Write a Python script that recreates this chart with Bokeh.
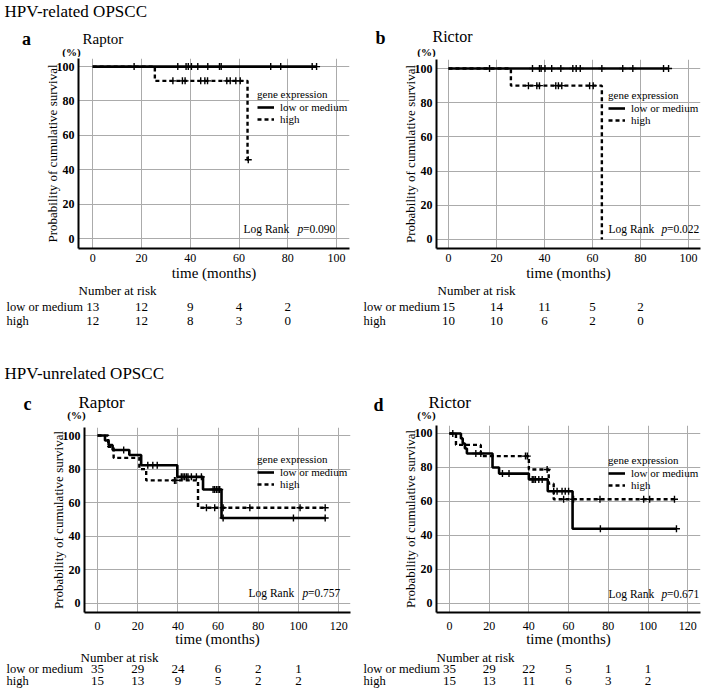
import numpy as np
from bokeh.plotting import figure
from bokeh.models import Label, Legend, LegendItem, FixedTicker, Range1d
from bokeh.layouts import column, row
from bokeh.embed import file_html
from bokeh.resources import INLINE

SERIF = "Liberation Serif"

# ---------------- data ----------------
# a: Raptor, HPV-related OPSCC
a_low_event_t = []
a_low_surv = []
a_low_end = 91.8
a_low_censor = [17, 34.9, 38.3, 39.2, 40.5, 43.1, 47.2, 52, 52.7, 73, 77.1, 90, 91.8]
a_high_event_t = [25.5, 63.5]
a_high_surv = [91.7, 45.8]
a_high_end = 63.8
a_high_censor = [32.9, 36.8, 37.9, 44.3, 46, 47.1, 55, 56.4, 58.7, 60.5, 63.8]
a_risk_t = [0, 20, 40, 60, 80]
a_risk_low = [13, 12, 9, 4, 2]
a_risk_high = [12, 12, 8, 3, 0]
a_p = "=0.090"

# b: Rictor, HPV-related OPSCC
b_low_event_t = []
b_low_surv = []
b_low_end = 91.7
b_low_censor = [17.1, 35, 37.9, 38.6, 40.2, 43, 46.8, 51.8, 53.2, 54.9, 63.9, 72.6, 76.8, 89.6, 91.7]
b_high_event_t = [26, 63.9]
b_high_surv = [90, 0]
b_high_end = 63.9
b_high_censor = [33.3, 36.8, 37.9, 44.7, 45.8, 47.2, 58.8, 60.3]
b_risk_t = [0, 20, 40, 60, 80]
b_risk_low = [15, 14, 11, 5, 2]
b_risk_high = [10, 10, 6, 2, 0]
b_p = "=0.022"

# c: Raptor, HPV-unrelated OPSCC
c_low_event_t = [3.7, 5.5, 7.5, 15.8, 21.7, 39.7, 52.5, 61.7]
c_low_surv = [97.1, 94.3, 91.4, 88.4, 82.3, 75.4, 67.9, 50.9]
c_low_end = 113.3
c_low_censor = [13, 25, 27.5, 29.7, 41.7, 42.5, 43.3, 44.2, 45, 46.7, 49.2, 51.7,
                57.5, 58.3, 59.2, 60, 60.8, 62.5, 97.5, 113.3]
c_high_event_t = [5.3, 8, 20.8, 24.2, 50]
c_high_surv = [93.3, 86.7, 80, 73.3, 57]
c_high_end = 113.3
c_high_censor = [38.3, 39, 54.2, 58.3, 62.5, 75.8, 100.8, 113.3]
c_risk_t = [0, 20, 40, 60, 80, 100]
c_risk_low = [35, 29, 24, 6, 2, 1]
c_risk_high = [15, 13, 9, 5, 2, 2]
c_p = "=0.757"

# d: Rictor, HPV-unrelated OPSCC
d_low_event_t = [5.8, 6.7, 7.8, 8.8, 21.7, 25, 40, 49.5, 62]
d_low_surv = [97.1, 94.1, 91.2, 88.2, 80, 76.4, 73, 66, 44]
d_low_end = 114.3
d_low_censor = [1.7, 13.3, 15.8, 26.7, 30, 41.7, 42.5, 43.3, 45, 46.7, 52.5, 54.2,
                56.7, 58.3, 60, 76, 114.3]
d_high_event_t = [3.3, 15.8, 40, 50, 52.5]
d_high_surv = [93.3, 86.7, 78.8, 70.5, 61.3]
d_high_end = 113.3
d_high_censor = [38.3, 39.2, 49.2, 57.5, 62.5, 75.8, 97.8, 100.8, 113.3]
d_risk_t = [0, 20, 40, 60, 80, 100]
d_risk_low = [35, 29, 22, 5, 1, 1]
d_risk_high = [15, 13, 11, 6, 3, 2]
d_p = "=0.671"

x_ticks_top = [0, 20, 40, 60, 80, 100]
x_ticks_bottom = [0, 20, 40, 60, 80, 100, 120]
y_ticks = [0, 20, 40, 60, 80, 100]


def step_xy(event_t, surv, end):
    xs = [0.0] + list(event_t) + [end]
    ys = [100.0] + list(surv) + [surv[-1] if len(surv) else 100.0]
    return xs, ys


def surv_at(times, event_t, surv):
    out = []
    for t in times:
        i = int(np.searchsorted(np.asarray(event_t, dtype=float), t, side="right"))
        out.append(100.0 if i == 0 else surv[i - 1])
    return out


def label(p, text, x, y, size, align="left", style="normal"):
    p.add_layout(Label(x=x, y=y, x_units="data", y_units="data", text=text,
                       text_font=SERIF, text_font_size=size, text_font_style=style,
                       text_align=align, text_baseline="middle", text_color="black"))


def text_fig(ox, oy, W, H, xr):
    p = figure(width=W, height=H, x_range=Range1d(*xr), y_range=Range1d(oy + H, oy),
               output_backend="svg", toolbar_location=None, title=None,
               x_axis_location=None, y_axis_location=None, min_border=0,
               frame_align=False)
    p.grid.visible = False
    p.outline_line_color = None
    p.background_fill_color = "white"
    p.border_fill_color = "white"
    return p


def build_panel(cfg):
    ox = cfg["ox"]
    W = cfg["W"]
    hy0, my0, ty0, ty1 = cfg["rows"]
    L, T, R, B = cfg["frame"]
    x0, x1 = cfg["xr"]
    y0, y1 = cfg["yr"]
    k = (x1 - x0) / (R - L)

    def px2x(px):
        return x0 + (px - L) * k

    def py2y(py):
        return y0 + (B - py) / (B - T) * (y1 - y0)

    # ---- header ----
    ph = text_fig(ox, hy0, W, my0 - hy0, (ox, ox + W))
    for (text, px, py, size, align, style) in cfg["header"]:
        label(ph, text, px, py, size, align, style)

    # ---- main plot ----
    H = ty0 - my0
    p = figure(width=W, height=H, x_range=Range1d(x0, x1), y_range=Range1d(y0, y1),
               output_backend="svg", toolbar_location=None, title=None,
               min_border_left=L - ox, min_border_right=ox + W - R,
               min_border_top=T - my0, min_border_bottom=my0 + H - B,
               frame_align=False)
    p.outline_line_color = None
    p.background_fill_color = "white"
    p.border_fill_color = "white"
    for ax in (p.xaxis[0], p.yaxis[0]):
        ax.axis_line_width = 2
        ax.axis_line_color = "black"
        ax.major_tick_out = 0
        ax.major_tick_in = 0
        ax.minor_tick_out = 0
        ax.minor_tick_in = 0
        ax.major_label_text_font = SERIF
        ax.major_label_text_color = "black"
        ax.major_label_text_font_size = "12px"
        ax.axis_label_text_font = SERIF
        ax.axis_label_text_color = "black"
        ax.axis_label_text_font_style = "normal"
    p.xaxis.ticker = FixedTicker(ticks=cfg["xticks"])
    p.yaxis.ticker = FixedTicker(ticks=y_ticks)
    p.xaxis.major_label_standoff = cfg["xstand"]
    p.yaxis.major_label_standoff = 4
    p.yaxis.major_label_text_font_style = "bold"
    p.xaxis.axis_label = "time (months)"
    p.xaxis.axis_label_text_font_size = "15px"
    p.xaxis.axis_label_standoff = cfg["xlabstand"]
    p.yaxis.axis_label = "Probability of cumulative survival"
    p.yaxis.axis_label_text_font_size = "13px"
    p.yaxis.axis_label_standoff = -6
    p.xgrid.ticker = FixedTicker(ticks=cfg["xticks"])
    p.ygrid.ticker = FixedTicker(ticks=y_ticks)
    for g in (p.xgrid[0], p.ygrid[0]):
        g.grid_line_color = "#ababab"
        g.grid_line_width = 1

    d = cfg["data"]
    hx, hy = step_xy(d["high_t"], d["high_s"], d["high_end"])
    lx, ly = step_xy(d["low_t"], d["low_s"], d["low_end"])
    r_high = p.step(hx, hy, mode="after", line_color="black", line_width=2.4, line_dash="4 3")
    r_low = p.step(lx, ly, mode="after", line_color="black", line_width=2.6)
    p.scatter(d["high_c"], surv_at(d["high_c"], d["high_t"], d["high_s"]), marker="cross",
              size=7, line_color="black", line_width=1.4)
    p.scatter(d["low_c"], surv_at(d["low_c"], d["low_t"], d["low_s"]), marker="cross",
              size=7, line_color="black", line_width=1.4)

    lg_left, lg_bottom = cfg["legend"]
    legend = Legend(items=[LegendItem(label="low or medium", renderers=[r_low]),
                           LegendItem(label="high", renderers=[r_high])],
                    location=(lg_left - L, B - lg_bottom))
    legend.title = "gene expression"
    legend.title_text_font = SERIF
    legend.title_text_font_size = "11px"
    legend.title_text_font_style = "normal"
    legend.title_text_color = "black"
    legend.title_standoff = 1
    legend.label_text_font = SERIF
    legend.label_text_font_size = "11px"
    legend.label_text_color = "black"
    legend.label_height = 12
    legend.glyph_height = 12
    legend.glyph_width = 17
    legend.label_standoff = 6
    legend.spacing = 0
    legend.padding = 0
    legend.margin = 0
    legend.border_line_color = None
    legend.background_fill_alpha = 0
    p.add_layout(legend)

    lr_x, lr_y, p_x = cfg["logrank"]
    label(p, "Log Rank", px2x(lr_x), py2y(lr_y), "11.5px")
    label(p, "p", px2x(p_x), py2y(lr_y), "11.5px", "left", "italic")
    label(p, cfg["pval"], px2x(p_x + 5.5), py2y(lr_y), "11.5px")

    # ---- number at risk table (x in data units of the plot above) ----
    pt = text_fig(ox, ty0, W, ty1 - ty0, (px2x(ox), px2x(ox + W)))
    nar_x, nar_y, lab_x, row1, row2 = cfg["table"]
    label(pt, "Number at risk", px2x(nar_x), nar_y, "13px")
    label(pt, "low or medium", px2x(lab_x), row1, "12.5px")
    label(pt, "high", px2x(lab_x), row2, "12.5px")
    for t, n in zip(cfg["risk_t"], cfg["risk_low"]):
        label(pt, str(n), t, row1, "13px", "center")
    for t, n in zip(cfg["risk_t"], cfg["risk_high"]):
        label(pt, str(n), t, row2, "13px", "center")

    return column(ph, p, pt, spacing=0)


TOP_ROWS = (0, 57, 283, 345)
BOT_ROWS = (345, 424, 649, 693)

panels = [
    dict(ox=0, W=356, rows=TOP_ROWS, frame=(78, 58, 349, 248),
         xr=(-5.8, 105.3), yr=(-5.8, 104.7), xticks=x_ticks_top, xstand=5, xlabstand=0,
         data=dict(low_t=a_low_event_t, low_s=a_low_surv, low_end=a_low_end, low_c=a_low_censor,
                   high_t=a_high_event_t, high_s=a_high_surv, high_end=a_high_end, high_c=a_high_censor),
         legend=(257, 125),
         header=[("HPV-related OPSCC", 4, 11, "17px", "left", "normal"),
                 ("a", 26, 38, "18px", "center", "bold"),
                 ("Raptor", 82, 38, "15px", "left", "normal"),
                 ("(%)", 71, 51, "11px", "center", "bold")],
         logrank=(243, 228, 297), pval=a_p,
         table=(78, 290, 6, 306, 320), risk_t=a_risk_t, risk_low=a_risk_low, risk_high=a_risk_high),
    dict(ox=356, W=353, rows=TOP_ROWS, frame=(436, 59, 700, 248),
         xr=(-5.0, 105.0), yr=(-5.3, 105.3), xticks=x_ticks_top, xstand=5, xlabstand=0,
         data=dict(low_t=b_low_event_t, low_s=b_low_surv, low_end=b_low_end, low_c=b_low_censor,
                   high_t=b_high_event_t, high_s=b_high_surv, high_end=b_high_end, high_c=b_high_censor),
         legend=(608, 126),
         header=[("b", 380, 37, "18px", "center", "bold"),
                 ("Rictor", 432, 36, "16px", "left", "normal"),
                 ("(%)", 426, 51, "11px", "center", "bold")],
         logrank=(608, 228, 661), pval=b_p,
         table=(437, 290, 363, 306, 320), risk_t=b_risk_t, risk_low=b_risk_low, risk_high=b_risk_high),
    dict(ox=0, W=356, rows=BOT_ROWS, frame=(84, 427, 350, 612),
         xr=(-6.5, 125.9), yr=(-5.4, 104.8), xticks=x_ticks_bottom, xstand=9, xlabstand=-2,
         data=dict(low_t=c_low_event_t, low_s=c_low_surv, low_end=c_low_end, low_c=c_low_censor,
                   high_t=c_high_event_t, high_s=c_high_surv, high_end=c_high_end, high_c=c_high_censor),
         legend=(257, 490),
         header=[("HPV-unrelated OPSCC", 4, 373, "17px", "left", "normal"),
                 ("c", 27, 403, "18px", "center", "bold"),
                 ("Raptor", 78, 402, "17px", "left", "normal"),
                 ("(%)", 76, 414, "11px", "center", "bold")],
         logrank=(248, 592, 302), pval=c_p,
         table=(80, 656.5, 6, 668, 680), risk_t=c_risk_t, risk_low=c_risk_low, risk_high=c_risk_high),
    dict(ox=356, W=353, rows=BOT_ROWS, frame=(436, 425, 700, 612),
         xr=(-6.5, 126.4), yr=(-5.3, 104.7), xticks=x_ticks_bottom, xstand=9, xlabstand=-2,
         data=dict(low_t=d_low_event_t, low_s=d_low_surv, low_end=d_low_end, low_c=d_low_censor,
                   high_t=d_high_event_t, high_s=d_high_surv, high_end=d_high_end, high_c=d_high_censor),
         legend=(608, 491),
         header=[("d", 378, 404, "18px", "center", "bold"),
                 ("Rictor", 428, 402, "17px", "left", "normal"),
                 ("(%)", 426, 414, "11px", "center", "bold")],
         logrank=(608, 593, 661), pval=d_p,
         table=(436, 656.5, 363, 668, 680), risk_t=d_risk_t, risk_low=d_risk_low, risk_high=d_risk_high),
]

cols = [build_panel(cfg) for cfg in panels]
layout = column(row(cols[0], cols[1], spacing=0), row(cols[2], cols[3], spacing=0), spacing=0)

open("out.html", "w").write(file_html(layout, INLINE))
